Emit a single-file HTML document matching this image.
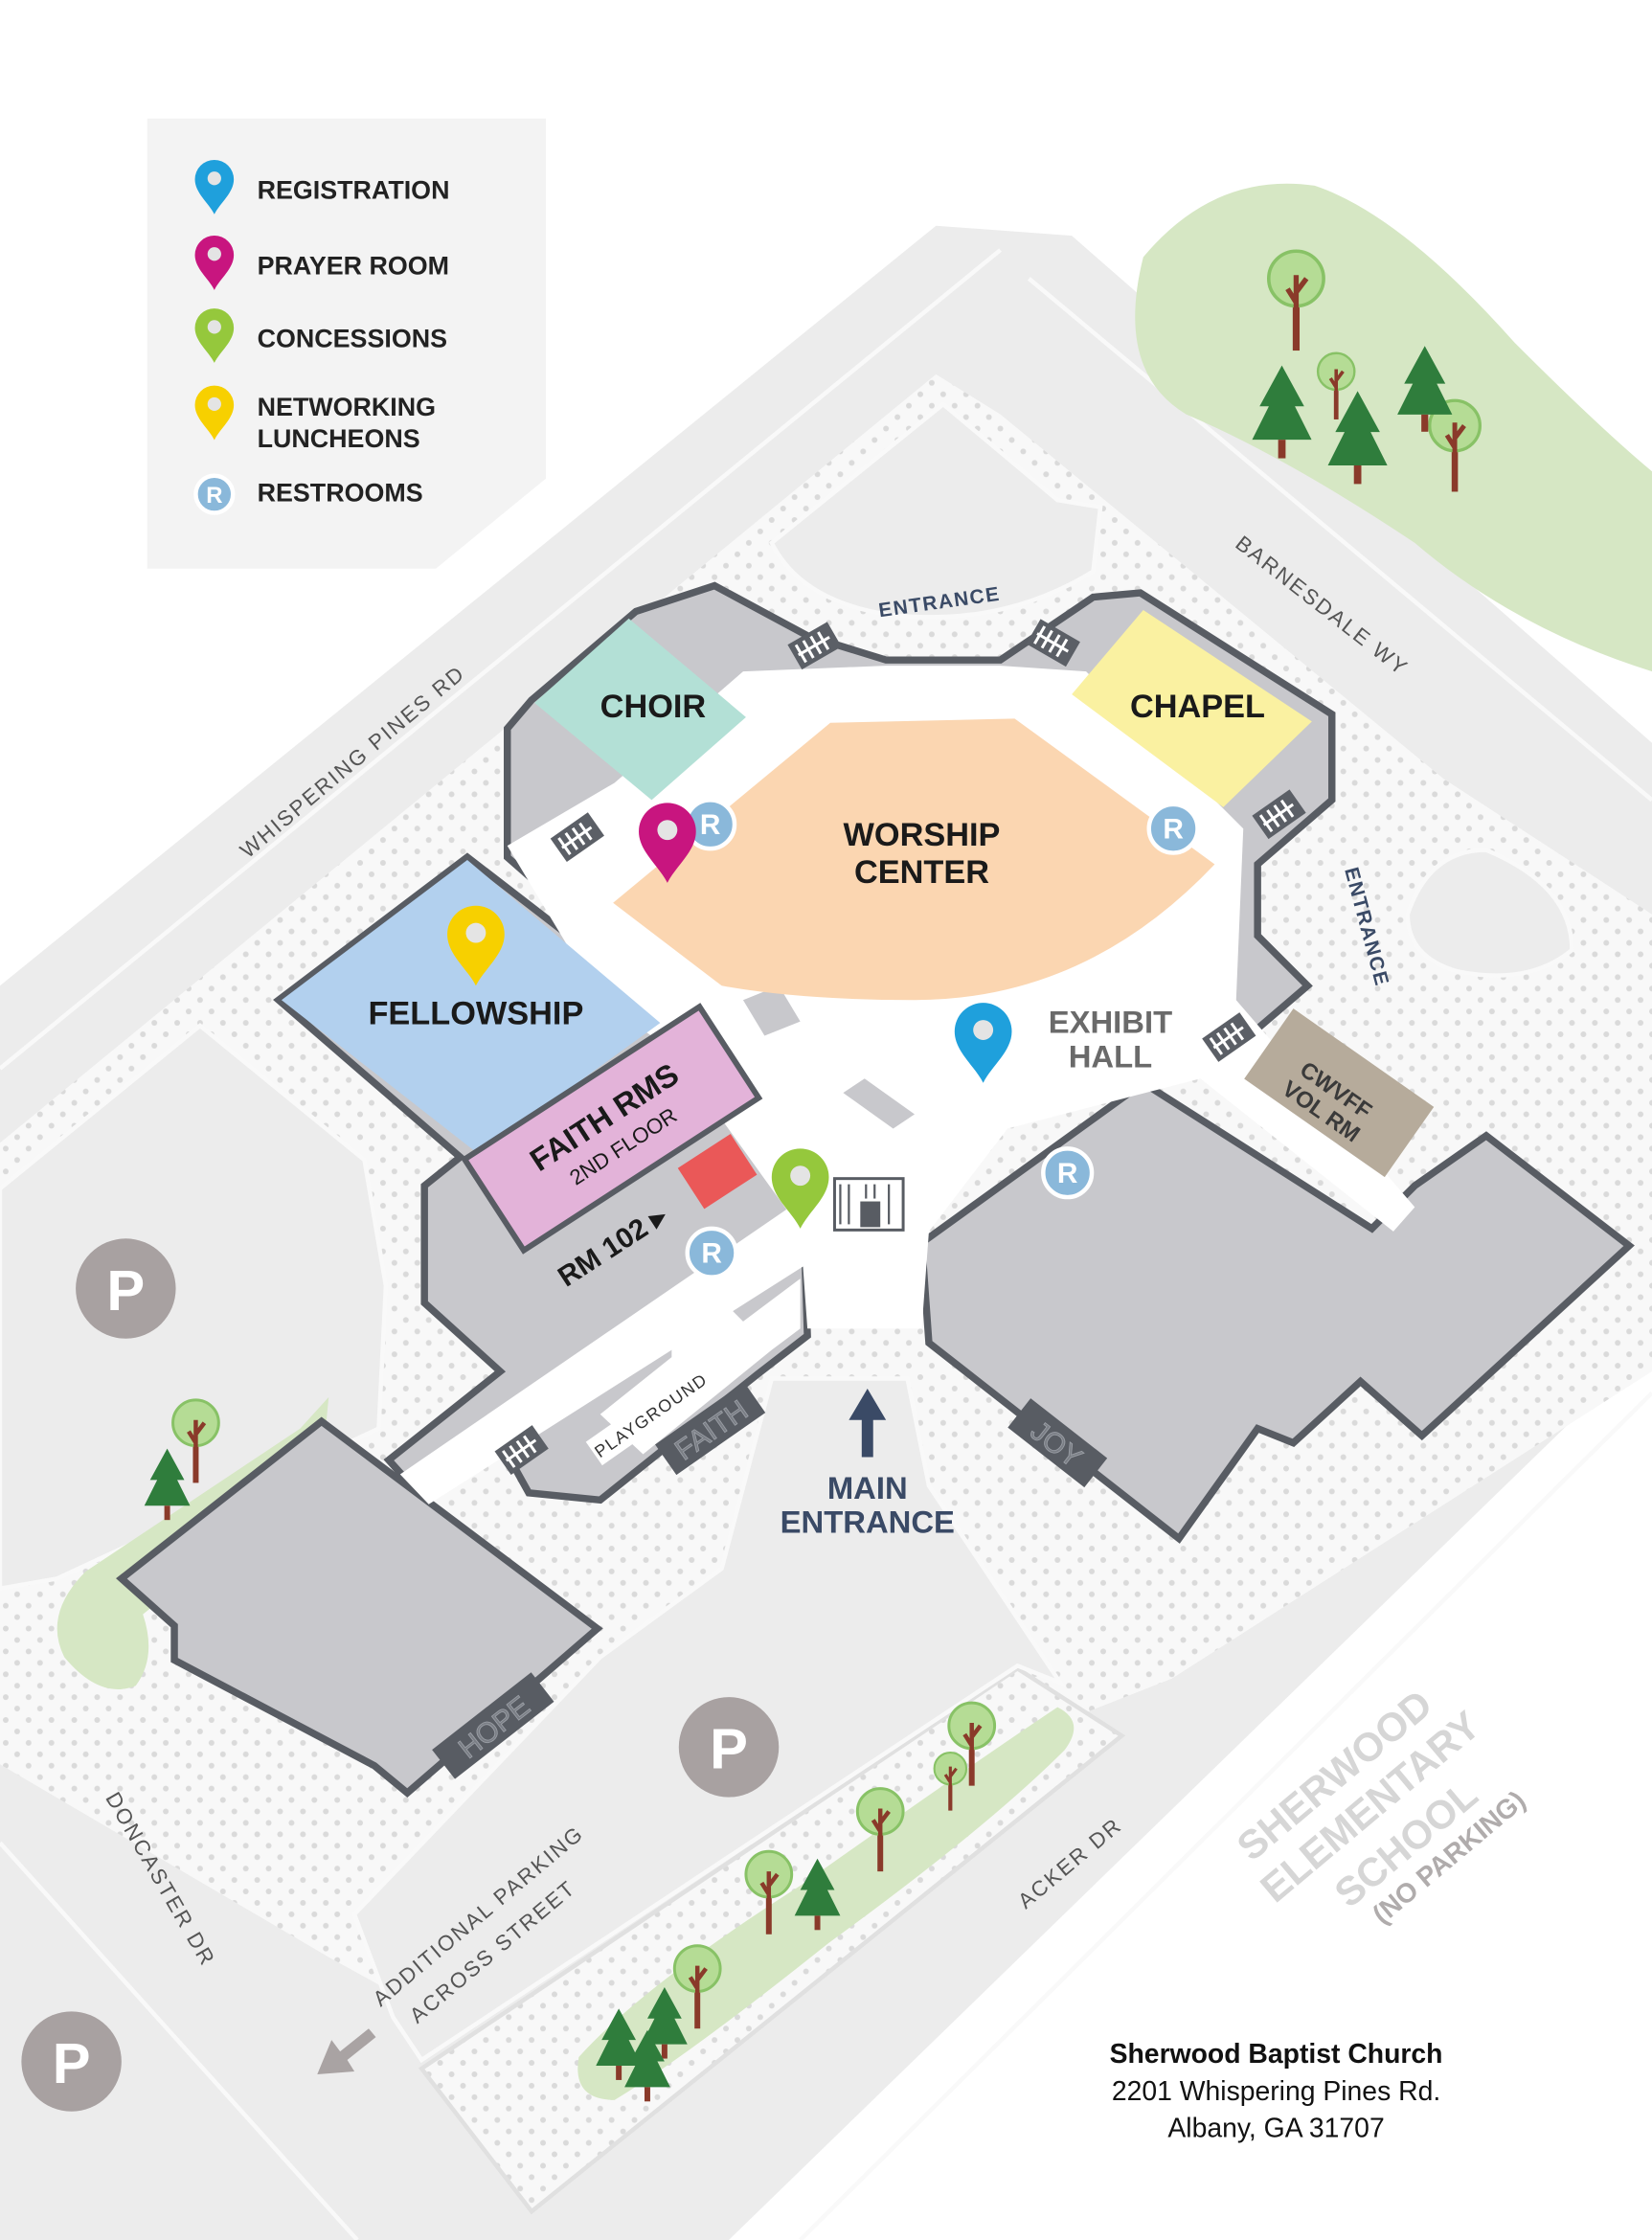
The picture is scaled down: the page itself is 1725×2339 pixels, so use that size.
<!DOCTYPE html>
<html><head><meta charset="utf-8">
<style>
html,body{margin:0;padding:0;background:#fff;}
svg{display:block;}
text{font-family:"Liberation Sans",Arial,sans-serif;}
</style></head>
<body>
<svg width="1725" height="2339" viewBox="0 0 1156 1568" preserveAspectRatio="none" xmlns="http://www.w3.org/2000/svg">
<defs>
<pattern id="dots" width="16" height="16" patternUnits="userSpaceOnUse">
<rect width="16" height="16" fill="#f8f8f8"/>
<circle cx="4" cy="4" r="2" fill="#dadada"/>
<circle cx="12" cy="12" r="2" fill="#dadada"/>
</pattern>
<g id="pin"><path d="M0,0 C-6,-12 -20,-22 -20,-36 A20,20 0 1 1 20,-36 C20,-22 6,-12 0,0 Z"/><circle cx="0" cy="-37" r="7" fill="#e4e4e4"/></g>
<g id="stair"><rect x="-16" y="-10" width="32" height="20" fill="#5b5f66"/><g stroke="#fff" stroke-width="2"><line x1="-11" y1="-7" x2="-11" y2="7"/><line x1="-5" y1="-7" x2="-5" y2="7"/><line x1="1" y1="-7" x2="1" y2="7"/><line x1="7" y1="-7" x2="7" y2="7"/><line x1="-13" y1="0" x2="12" y2="0"/></g></g>
<g id="tree"><rect x="-2" y="0" width="4" height="42" fill="#8a3a2a"/><circle cx="0" cy="0" r="16" fill="#b5dc95" stroke="#88c266" stroke-width="2"/><path d="M0,20 L0,-2 M0,8 L6,0 M0,14 L-5,6" stroke="#8a3a2a" stroke-width="3" fill="none"/></g>
<g id="pine"><path d="M0,-34 L-12,-12 L-7,-12 L-16,6 L16,6 L7,-12 L12,-12 Z" fill="#2f7d3c"/><rect x="-2" y="6" width="4" height="10" fill="#8a3a2a"/></g>
</defs>

<!-- ground -->
<polygon points="0,690 655,158 750,165 1156,520 1156,940 510,1568 0,1568" fill="#ececec"/>
<g stroke="#f9f9f9" stroke-width="3" fill="none">
<line x1="0" y1="748" x2="700" y2="175"/>
<line x1="720" y1="195" x2="1156" y2="560"/>
<line x1="0" y1="1290" x2="250" y2="1568"/>
<line x1="1156" y1="975" x2="560" y2="1568"/>
</g>
<polygon points="0,800 655,262 700,290 1010,545 1156,640 1156,960 820,1175 270,1392 230,1370 0,1235" fill="url(#dots)"/>
<polygon points="295,1448 712,1168 785,1215 372,1548" fill="url(#dots)" stroke="#e0e0e0" stroke-width="3"/>
<polygon points="0,832 140,718 255,812 270,900 265,1000 40,1105 0,1112" fill="#ececec" stroke="#f9f9f9" stroke-width="3"/>
<polygon points="248,1340 420,1160 505,1098 540,965 635,965 650,1040 742,1178 712,1166 295,1442 275,1412" fill="#ececec" stroke="#f9f9f9" stroke-width="3"/>
<path d="M540,380 L660,283 L740,350 L770,355 L765,400 Q700,440 620,430 Q560,420 540,380 Z" fill="#ececec" stroke="#f9f9f9" stroke-width="3"/>
<path d="M985,640 Q1000,595 1040,595 Q1100,620 1100,665 Q1070,690 1020,680 Q985,670 985,640 Z" fill="#ececec" stroke="#f9f9f9" stroke-width="3"/>

<!-- green areas -->
<path d="M800,180 Q850,120 920,130 Q980,150 1060,240 Q1120,300 1156,330 L1156,470 Q1060,440 990,380 Q900,320 830,290 Q780,260 800,180 Z" fill="#d6e7c4"/>
<path d="M230,978 L210,1000 Q120,1060 60,1100 Q30,1130 45,1160 Q70,1190 95,1180 Q110,1160 100,1130 Q150,1090 225,1030 Z" fill="#d6e7c4"/>
<path d="M405,1440 Q450,1390 560,1320 Q680,1235 740,1195 Q760,1205 745,1225 Q690,1280 580,1360 Q480,1440 430,1470 Q400,1470 405,1440 Z" fill="#d6e7c4"/>

<!-- buildings -->
<g fill="#c8c8cc" stroke="#585c63" stroke-width="5" stroke-linejoin="miter">
<polygon points="372,490 445,428 500,410 565,445 620,462 700,462 765,418 798,415 932,500 932,560 880,605 880,655 915,690 880,720 560,780 355,600 355,510"/>
<polygon points="195,700 327,600 560,780 565,935 530,962 420,1050 370,1045 345,1000 290,1042 272,1022 350,960 297,912 297,830 322,810"/>
<polygon points="645,870 800,758 960,860 990,830 1040,795 1140,872 995,1005 952,967 905,1010 880,1000 825,1077 650,940"/>
<polygon points="85,1105 225,995 418,1140 285,1255 262,1236 122,1162 122,1138"/>
</g>
<g fill="#ffffff">
<polygon points="355,592 430,548 520,470 620,466 700,466 760,470 870,580 865,700 990,845 975,862 840,755 705,790 650,862 645,930 565,930 560,860 470,735 420,700"/>
<polygon points="560,840 566,884 300,1053 280,1032"/>
<polygon points="470,920 500,905 520,925 560,895 560,930 540,945 450,1018 420,990 470,950"/>
</g>
<g fill="#c8c8cc"><polygon points="520,700 545,690 560,715 535,725"/><polygon points="590,765 605,755 640,780 625,790"/></g>

<!-- rooms -->
<path d="M429,632 L581,506 L710,503 L850,605 Q760,700 640,700 Q560,700 505,690 Z" fill="#fbd6b1"/>
<polygon points="374,492 440,433 522,502 456,560" fill="#b3e0d6"/>
<polygon points="750,486 800,427 918,505 856,565" fill="#faf1a1"/>
<polygon points="197,700 327,602 462,716 335,808" fill="#b2d0ee"/>
<g transform="translate(428,790) rotate(-33)">
<rect x="-98" y="-38" width="196" height="76" fill="#e3b3d9" stroke="#585c63" stroke-width="4"/>
</g>
<g transform="translate(502,820) rotate(-33)"><rect x="-22" y="-17" width="44" height="34" fill="#ea5858"/></g>
<g transform="translate(937,765) rotate(35)"><rect x="-60" y="-30" width="120" height="60" fill="#b6ab9b"/></g>

<!-- stairs -->
<use href="#stair" transform="translate(570,452) rotate(-30)"/>
<use href="#stair" transform="translate(737,450) rotate(30)"/>
<use href="#stair" transform="translate(404,586) rotate(-35)"/>
<use href="#stair" transform="translate(895,570) rotate(-35)"/>
<use href="#stair" transform="translate(860,726) rotate(-35)"/>
<use href="#stair" transform="translate(365,1015) rotate(-35)"/>
<g transform="translate(608,843)"><rect x="-24" y="-18" width="48" height="36" fill="#fff" stroke="#585c63" stroke-width="2"/><rect x="-6" y="-2" width="14" height="18" fill="#585c63"/><g stroke="#585c63" stroke-width="1.5"><line x1="-20" y1="-14" x2="-20" y2="14"/><line x1="-14" y1="-14" x2="-14" y2="14"/><line x1="-2" y1="-14" x2="-2" y2="-4"/><line x1="4" y1="-14" x2="4" y2="-4"/><line x1="14" y1="-14" x2="14" y2="14"/></g></g>

<!-- tabs -->
<g transform="translate(497,1000) rotate(-35)"><rect x="-38" y="-13" width="76" height="26" fill="#585c63"/><text x="0" y="8" font-size="20" fill="#7a7e85" stroke="#9a9ea5" stroke-width="0.6" text-anchor="middle">FAITH</text></g>
<g transform="translate(740,1010) rotate(38)"><rect x="-34" y="-13" width="68" height="26" fill="#585c63"/><text x="0" y="8" font-size="20" fill="#7a7e85" stroke="#9a9ea5" stroke-width="0.6" text-anchor="middle">JOY</text></g>
<g transform="translate(345,1208) rotate(-38)"><rect x="-44" y="-13" width="88" height="26" fill="#585c63"/><text x="0" y="8" font-size="20" fill="#7a7e85" stroke="#9a9ea5" stroke-width="0.6" text-anchor="middle">HOPE</text></g>
<g transform="translate(455,990) rotate(-35)"><rect x="-48" y="-10" width="96" height="20" fill="#fff"/><text x="0" y="5" font-size="12" fill="#333" text-anchor="middle" letter-spacing="1">PLAYGROUND</text></g>

<!-- legend -->
<polygon points="103,83 382,83 382,335 305,398 103,398" fill="#f3f3f3"/>
<g transform="translate(150,150) scale(0.68)" fill="#1fa0dc"><use href="#pin"/></g>
<g transform="translate(150,203) scale(0.68)" fill="#c8157f"><use href="#pin"/></g>
<g transform="translate(150,254) scale(0.68)" fill="#95c83c"><use href="#pin"/></g>
<g transform="translate(150,308) scale(0.68)" fill="#f7d000"><use href="#pin"/></g>
<circle cx="150" cy="346" r="13" fill="#8ab8da" stroke="#fff" stroke-width="3"/><text x="150" y="352" font-size="16" font-weight="bold" fill="#fff" text-anchor="middle">R</text>
<g font-size="18" font-weight="bold" fill="#222">
<text x="180" y="139">REGISTRATION</text>
<text x="180" y="192">PRAYER ROOM</text>
<text x="180" y="243">CONCESSIONS</text>
<text x="180" y="291">NETWORKING</text>
<text x="180" y="313">LUNCHEONS</text>
<text x="180" y="351">RESTROOMS</text>
</g>

<!-- room labels -->
<g font-weight="bold" fill="#1a1a1a" text-anchor="middle" font-size="23">
<text x="457" y="502">CHOIR</text>
<text x="838" y="502">CHAPEL</text>
<text x="645" y="592">WORSHIP</text>
<text x="645" y="618">CENTER</text>
<text x="333" y="717">FELLOWSHIP</text>
</g>
<g transform="translate(428,790) rotate(-33)" text-anchor="middle" fill="#1a1a1a">
<text x="0" y="-2" font-size="22" font-weight="bold">FAITH RMS</text>
<text x="0" y="20" font-size="15">2ND FLOOR</text>
</g>
<g transform="translate(432,878) rotate(-33)"><text x="0" y="0" font-size="20" font-weight="bold" fill="#1a1a1a" text-anchor="middle">RM 102 ▸</text></g>
<g transform="translate(930,770) rotate(35)" text-anchor="middle" fill="#3a3a3a" font-weight="bold" font-size="16"><text x="0" y="-3">CWVFF</text><text x="0" y="15">VOL RM</text></g>
<g font-weight="bold" fill="#6a6a6a" text-anchor="middle" font-size="22"><text x="777" y="723">EXHIBIT</text><text x="777" y="747">HALL</text></g>
<g font-weight="bold" fill="#3a4a66" text-anchor="middle" font-size="22"><text x="607" y="1049">MAIN</text><text x="607" y="1073">ENTRANCE</text></g>
<path d="M607,972 L594,994 L603,994 L603,1020 L611,1020 L611,994 L620,994 Z" fill="#3a4a66"/>

<!-- road labels -->
<g font-size="15" fill="#555" letter-spacing="1.5" text-anchor="middle">
<text transform="translate(250,537) rotate(-40)">WHISPERING PINES RD</text>
<text transform="translate(922,428) rotate(38)">BARNESDALE WY</text>
<text transform="translate(108,1318) rotate(60)">DONCASTER DR</text>
<text transform="translate(752,1308) rotate(-40)">ACKER DR</text>
<text transform="translate(338,1345) rotate(-40)">ADDITIONAL PARKING</text>
<text transform="translate(348,1370) rotate(-40)">ACROSS STREET</text>
</g>
<g font-size="14" fill="#3a4a66" letter-spacing="1" text-anchor="middle" font-weight="bold">
<text transform="translate(658,426) rotate(-8)">ENTRANCE</text>
<text transform="translate(952,650) rotate(75)">ENTRANCE</text>
</g>
<path d="M222,1452 L232,1428 L238,1436 L258,1420 L263,1426 L243,1442 L248,1450 Z" fill="#a9a3a3"/>
<g font-size="28" font-weight="bold" fill="#d6d6d6" text-anchor="middle">
<text transform="translate(940,1250) rotate(-40)">SHERWOOD</text>
<text transform="translate(965,1272) rotate(-40)">ELEMENTARY</text>
<text transform="translate(990,1298) rotate(-40)">SCHOOL</text>
</g>
<text transform="translate(1018,1305) rotate(-40)" font-size="19" font-weight="bold" fill="#b0acac" text-anchor="middle">(NO PARKING)</text>

<!-- parking -->
<g fill="#a8a1a1"><circle cx="88" cy="902" r="35"/><circle cx="510" cy="1223" r="35"/><circle cx="50" cy="1443" r="35"/></g>
<g font-size="40" font-weight="bold" fill="#fff" text-anchor="middle"><text x="88" y="917">P</text><text x="510" y="1238">P</text><text x="50" y="1458">P</text></g>

<!-- restrooms -->
<g fill="#8ab8da" stroke="#fff" stroke-width="3"><circle cx="497" cy="577" r="17"/><circle cx="821" cy="580" r="17"/><circle cx="747" cy="821" r="17"/><circle cx="498" cy="877" r="17"/></g>
<g font-size="20" font-weight="bold" fill="#fff" text-anchor="middle"><text x="497" y="584">R</text><text x="821" y="587">R</text><text x="747" y="828">R</text><text x="498" y="884">R</text></g>

<!-- pins -->
<g transform="translate(467,618)" fill="#c8157f"><use href="#pin"/></g>
<g transform="translate(333,690)" fill="#f7d000"><use href="#pin"/></g>
<g transform="translate(688,758)" fill="#1fa0dc"><use href="#pin"/></g>
<g transform="translate(560,860)" fill="#95c83c"><use href="#pin"/></g>

<!-- trees -->
<use href="#tree" transform="translate(907,195) scale(1.2)"/>
<use href="#tree" transform="translate(935,260) scale(0.8)"/>
<use href="#tree" transform="translate(1018,298) scale(1.1)"/>
<use href="#pine" transform="translate(897,300) scale(1.3)"/>
<use href="#pine" transform="translate(950,318) scale(1.3)"/>
<use href="#pine" transform="translate(997,283) scale(1.2)"/>
<use href="#tree" transform="translate(137,996)"/>
<use href="#pine" transform="translate(117,1048)"/>
<use href="#tree" transform="translate(680,1208)"/>
<use href="#tree" transform="translate(665,1238) scale(0.7)"/>
<use href="#tree" transform="translate(616,1268)"/>
<use href="#tree" transform="translate(538,1312)"/>
<use href="#tree" transform="translate(488,1378)"/>
<use href="#pine" transform="translate(572,1335)"/>
<use href="#pine" transform="translate(433,1440)"/>
<use href="#pine" transform="translate(465,1425)"/>
<use href="#pine" transform="translate(453,1455)"/>

<!-- address -->
<g text-anchor="middle" fill="#111">
<text x="893" y="1444" font-size="19" font-weight="bold">Sherwood Baptist Church</text>
<text x="893" y="1470" font-size="19">2201 Whispering Pines Rd.</text>
<text x="893" y="1496" font-size="19">Albany, GA 31707</text>
</g>
</svg>
</body></html>
